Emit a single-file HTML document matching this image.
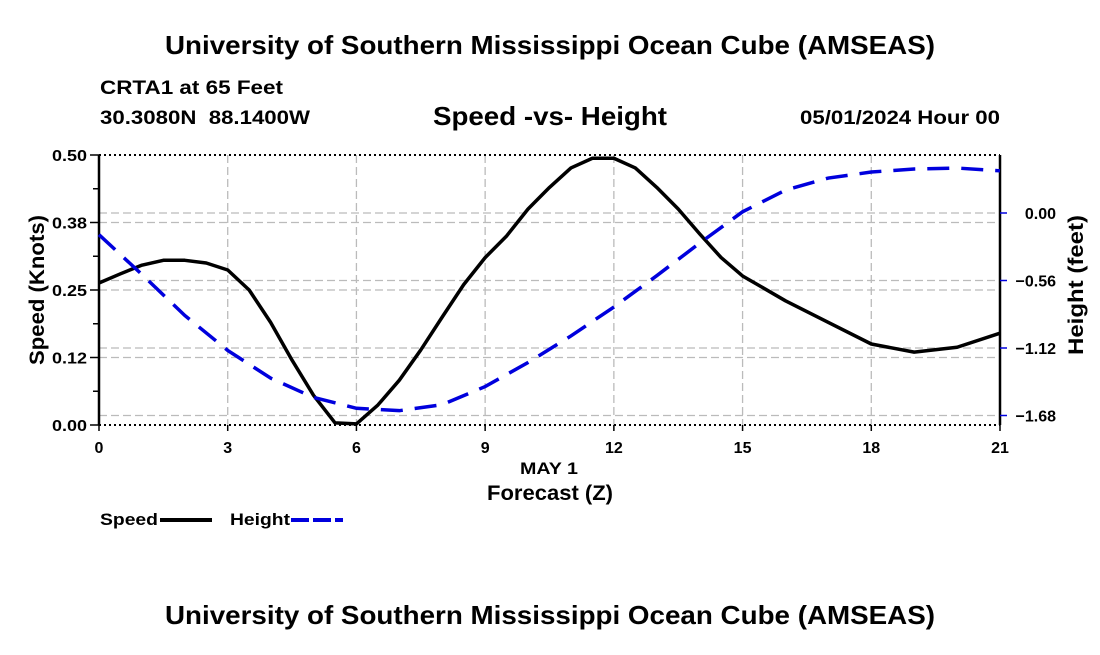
<!DOCTYPE html>
<html><head><meta charset="utf-8"><style>
body{margin:0;background:#fff;width:1100px;height:650px;overflow:hidden}
svg{font-family:"Liberation Sans",Arial,sans-serif;font-weight:bold}
</style></head><body>
<svg id="chart" width="1100" height="650">
<text x="165" y="54" font-size="26" textLength="770" lengthAdjust="spacingAndGlyphs">University of Southern Mississippi Ocean Cube (AMSEAS)</text>
<text x="100" y="94" font-size="19" textLength="183" lengthAdjust="spacingAndGlyphs">CRTA1 at 65 Feet</text>
<text x="100" y="124" font-size="19" textLength="210" lengthAdjust="spacingAndGlyphs" xml:space="preserve">30.3080N  88.1400W</text>
<text x="433" y="125" font-size="26" textLength="234" lengthAdjust="spacingAndGlyphs">Speed -vs- Height</text>
<text x="800" y="124" font-size="19" textLength="200" lengthAdjust="spacingAndGlyphs">05/01/2024 Hour 00</text>
<g id="grid"></g><g id="axes"></g><g id="series"></g>
<text x="520" y="474" font-size="17" textLength="58" lengthAdjust="spacingAndGlyphs">MAY 1</text>
<text x="487" y="500" font-size="21" textLength="126" lengthAdjust="spacingAndGlyphs">Forecast (Z)</text>
<text transform="translate(44,365) rotate(-90)" font-size="21" textLength="150" lengthAdjust="spacingAndGlyphs">Speed (Knots)</text>
<text transform="translate(1083,355) rotate(-90)" font-size="21" textLength="140" lengthAdjust="spacingAndGlyphs">Height (feet)</text>
<g><text x="100" y="525" font-size="17" textLength="58" lengthAdjust="spacingAndGlyphs">Speed</text><line x1="160" y1="520" x2="212" y2="520" stroke="#000" stroke-width="4"/></g>
<g><text x="230" y="525" font-size="17" textLength="60" lengthAdjust="spacingAndGlyphs">Height</text><line x1="291" y1="520" x2="343" y2="520" stroke="#0000dd" stroke-width="4" stroke-dasharray="18,4"/></g>
<text x="165" y="624" font-size="26" textLength="770" lengthAdjust="spacingAndGlyphs">University of Southern Mississippi Ocean Cube (AMSEAS)</text>
</svg>
<script>
const xTicks=[0,3,6,9,12,15,18,21];
const speedTicks=[0,0.125,0.25,0.375,0.5];
const speedTickLabels=["0.00","0.12","0.25","0.38","0.50"];
const heightTicks=[-1.68,-1.12,-0.56,0];
const heightTickLabels=["\u22121.68","\u22121.12","\u22120.56","0.00"];
const speedHours=[0,0.5,1,1.5,2,2.5,3,3.5,4,4.5,5,5.5,6,6.5,7,7.5,8,8.5,9,9.5,10,10.5,11,11.5,12,12.5,13,13.5,14,14.5,15,16,17,18,19,20,21];
const speedValues=[0.263,0.28,0.296,0.305,0.305,0.3,0.287,0.25,0.19,0.12,0.055,0.004,0.002,0.037,0.083,0.139,0.2,0.26,0.31,0.35,0.4,0.44,0.476,0.494,0.494,0.476,0.44,0.4,0.354,0.31,0.276,0.23,0.19,0.15,0.135,0.144,0.17];
const heightHours=[0,1,2,3,4,5,6,7,8,9,10,11,12,13,14,15,16,17,18,19,20,21];
const heightValues=[-0.18,-0.51,-0.85,-1.14,-1.37,-1.53,-1.62,-1.64,-1.59,-1.44,-1.24,-1.02,-0.78,-0.52,-0.25,0.01,0.19,0.29,0.34,0.365,0.373,0.35];
const L=99,R=1000,T=155,B=425;
const xS=h=>L+h/21*(R-L);
const yS=v=>B-v/0.5*(B-T);
const yH=v=>213-v/0.56*67.5;
const NS="http://www.w3.org/2000/svg";
function mk(tag,attrs,parent){const e=document.createElementNS(NS,tag);for(const k in attrs)e.setAttribute(k,attrs[k]);document.getElementById(parent).appendChild(e);return e;}
const G="#bbb";
xTicks.forEach(h=>{if(h>0&&h<21){const l=mk('line',{x1:xS(h),x2:xS(h),y1:T,y2:B,stroke:G,'stroke-width':1.3,'stroke-dasharray':'8,4'},'grid');

}});
speedTicks.forEach(v=>{if(v>0&&v<0.5){const l=mk('line',{x1:L,x2:R,y1:yS(v),y2:yS(v),stroke:G,'stroke-width':1.3,'stroke-dasharray':'8,4'},'grid');

}});
heightTicks.forEach(v=>{const l=mk('line',{x1:L,x2:R,y1:yH(v),y2:yH(v),stroke:G,'stroke-width':1.3,'stroke-dasharray':'8,4'},'grid');

});
let a=mk('line',{x1:L,x2:L,y1:T,y2:B,stroke:'#000','stroke-width':2.5},'axes');

a=mk('line',{x1:R,x2:R,y1:T,y2:B,stroke:'#000','stroke-width':2.5},'axes');

a=mk('line',{x1:L,x2:R,y1:T,y2:T,stroke:'#000','stroke-width':2,'stroke-dasharray':'2,3'},'axes');

a=mk('line',{x1:L,x2:R,y1:B,y2:B,stroke:'#000','stroke-width':2,'stroke-dasharray':'2,3'},'axes');

xTicks.forEach(h=>{mk('line',{x1:xS(h),x2:xS(h),y1:B,y2:B+6,stroke:'#000','stroke-width':1.5},'axes');
const t=mk('text',{x:xS(h),y:B+28,'font-size':16,'text-anchor':'middle'},'axes');t.textContent=h;

});
for(let i=0;i<=8;i++){const v=i*0.0625;mk('line',{x1:L-(i%2?6:9),x2:L,y1:yS(v),y2:yS(v),stroke:'#000','stroke-width':1.5},'axes');}
speedTicks.forEach((v,i)=>{const t=mk('text',{x:87,y:yS(v)+6,'font-size':16,'text-anchor':'end',textLength:35,lengthAdjust:'spacingAndGlyphs'},'axes');t.textContent=speedTickLabels[i];

});
heightTicks.forEach((v,i)=>{mk('line',{x1:R,x2:R+7,y1:yH(v),y2:yH(v),stroke:'#0000dd','stroke-width':1.5},'axes');
const t=mk('text',{x:1056,y:yH(v)+6,'font-size':16,'text-anchor':'end'},'axes');t.textContent=heightTickLabels[i];

});
const sp=mk('polyline',{points:speedHours.map((h,i)=>xS(h)+','+yS(speedValues[i])).join(' '),fill:'none',stroke:'#000','stroke-width':3.5,'stroke-linejoin':'round'},'series');


const hp=mk('polyline',{points:heightHours.map((h,i)=>xS(h)+','+yH(heightValues[i])).join(' '),fill:'none',stroke:'#0000dd','stroke-width':3.5,'stroke-dasharray':'22,12'},'series');


</script>
</body></html>
